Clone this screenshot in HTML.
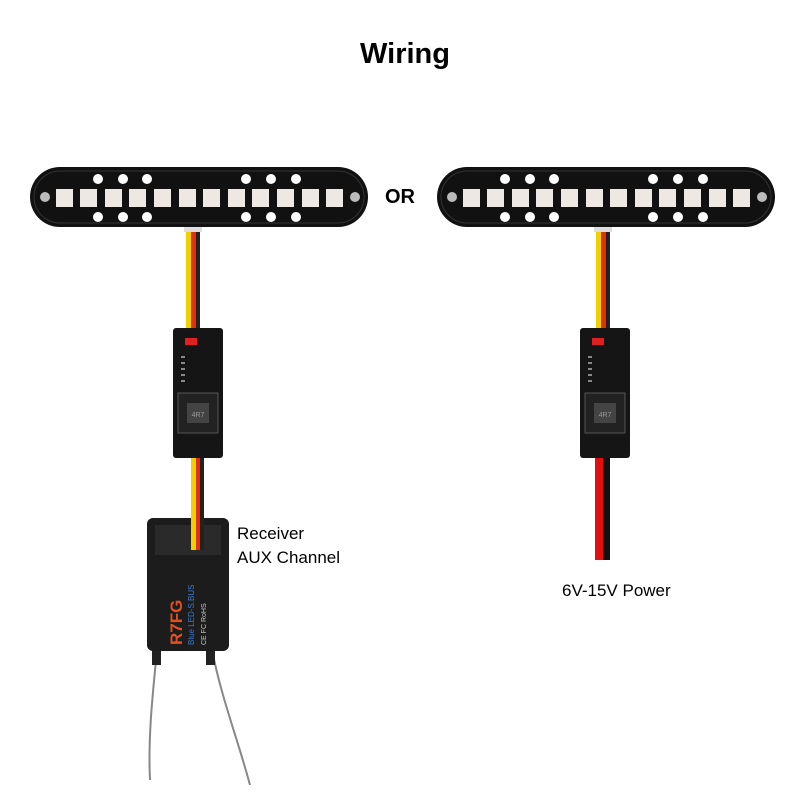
<!DOCTYPE html>
<html><head><meta charset="utf-8"><style>
html,body{margin:0;padding:0;background:#fff;}
svg{display:block}
text{font-family:"Liberation Sans",sans-serif}
</style></head><body>
<svg width="800" height="800" viewBox="0 0 800 800" xmlns="http://www.w3.org/2000/svg">
<defs>
<g id="bar">
 <rect x="0" y="0" width="338" height="60" rx="30" fill="#111"/>
 <rect x="4" y="4" width="330" height="52" rx="26" fill="none" stroke="#333" stroke-width="1"/>
 <circle cx="15" cy="30" r="5" fill="#bbb"/>
 <circle cx="325" cy="30" r="5" fill="#bbb"/>
 <g fill="#fff">
  <circle cx="68" cy="12" r="5"/><circle cx="93" cy="12" r="5"/><circle cx="117" cy="12" r="5"/>
  <circle cx="216" cy="12" r="5"/><circle cx="241" cy="12" r="5"/><circle cx="266" cy="12" r="5"/>
  <circle cx="68" cy="50" r="5"/><circle cx="93" cy="50" r="5"/><circle cx="117" cy="50" r="5"/>
  <circle cx="216" cy="50" r="5"/><circle cx="241" cy="50" r="5"/><circle cx="266" cy="50" r="5"/>
 </g>
 <g fill="#eee8e4">
  <rect x="26" y="22" width="17" height="18"/><rect x="50" y="22" width="17" height="18"/>
  <rect x="75" y="22" width="17" height="18"/><rect x="99" y="22" width="17" height="18"/>
  <rect x="124" y="22" width="17" height="18"/><rect x="149" y="22" width="17" height="18"/>
  <rect x="173" y="22" width="17" height="18"/><rect x="198" y="22" width="17" height="18"/>
  <rect x="222" y="22" width="17" height="18"/><rect x="247" y="22" width="17" height="18"/>
  <rect x="272" y="22" width="17" height="18"/><rect x="296" y="22" width="17" height="18"/>
 </g>
</g>
<g id="mod">
 <rect x="0" y="0" width="50" height="130" rx="3" fill="#151515"/>
 <rect x="12" y="10" width="12" height="7" fill="#e02020"/>
 <rect x="5" y="65" width="40" height="40" fill="#222" stroke="#555"/>
 <rect x="14" y="75" width="22" height="20" fill="#444"/>
 <text x="25" y="89" font-size="7" fill="#999" text-anchor="middle">4R7</text>
 <g fill="#888"><rect x="8" y="28" width="4" height="2"/><rect x="8" y="34" width="4" height="2"/><rect x="8" y="40" width="4" height="2"/><rect x="8" y="46" width="4" height="2"/><rect x="8" y="52" width="4" height="2"/></g>
</g>
</defs>
<text x="405" y="63" font-size="29" font-weight="bold" text-anchor="middle" fill="#000">Wiring</text>
<text x="400" y="203" font-size="20" font-weight="bold" text-anchor="middle" fill="#000">OR</text>

<!-- left -->
<rect x="186" y="228" width="5" height="100" fill="#f2d000"/>
<rect x="191" y="228" width="5" height="100" fill="#e03010"/>
<rect x="196" y="228" width="4" height="100" fill="#222"/>
<rect x="184" y="222" width="18" height="10" fill="#ddd"/>
<use href="#bar" x="30" y="167"/>
<use href="#mod" x="173" y="328"/>
<rect x="191" y="458" width="5" height="72" fill="#f2d000"/>
<rect x="196" y="458" width="4" height="72" fill="#e03010"/>
<rect x="200" y="458" width="4" height="72" fill="#222"/>
<path d="M157 650 C 152 700 148 740 150 780" stroke="#888" stroke-width="2" fill="none"/>
<path d="M212 650 C 222 700 238 740 250 785" stroke="#888" stroke-width="2" fill="none"/>
<rect x="152" y="645" width="9" height="20" fill="#222"/>
<rect x="206" y="645" width="9" height="20" fill="#222"/>
<rect x="147" y="518" width="82" height="133" rx="6" fill="#1c1c1c"/>
<rect x="155" y="525" width="66" height="30" fill="#2a2a2a"/>
<rect x="191" y="518" width="5" height="32" fill="#f2d000"/>
<rect x="196" y="518" width="4" height="32" fill="#e03010"/>
<rect x="200" y="518" width="4" height="32" fill="#222"/>
<text transform="translate(182,645) rotate(-90)" font-size="17" font-weight="bold" fill="#e05020">R7FG</text>
<text transform="translate(194,645) rotate(-90)" font-size="8" fill="#3a7ad0">Blue LED-S.BUS</text>
<text transform="translate(206,645) rotate(-90)" font-size="7" fill="#ccc">CE FC RoHS</text>
<text x="237" y="539" font-size="17" fill="#000">Receiver</text>
<text x="237" y="563" font-size="17" fill="#000">AUX Channel</text>

<!-- right -->
<rect x="596" y="228" width="5" height="100" fill="#f2d000"/>
<rect x="601" y="228" width="5" height="100" fill="#e03010"/>
<rect x="606" y="228" width="4" height="100" fill="#222"/>
<rect x="594" y="222" width="18" height="10" fill="#ddd"/>
<use href="#bar" x="437" y="167"/>
<use href="#mod" x="580" y="328"/>
<rect x="595" y="458" width="8" height="102" fill="#e01010"/>
<rect x="603" y="458" width="7" height="102" fill="#111"/>
<text x="562" y="596" font-size="17" fill="#000">6V-15V Power</text>
</svg>
</body></html>
